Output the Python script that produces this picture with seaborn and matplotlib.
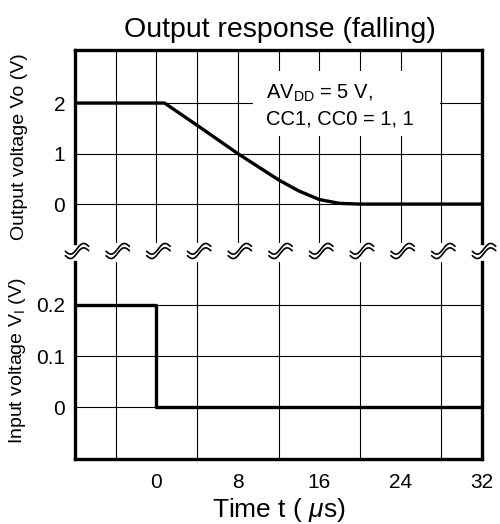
import numpy as np
import pandas as pd
import seaborn as sns
import matplotlib.pyplot as plt
import matplotlib.transforms as mtrans
from matplotlib.patches import Rectangle

# output voltage (top panel)
t_out = [-8, 0.8, 4, 8, 10, 12, 14, 16, 18, 20, 32]
v_out = [2.0, 2.0, 1.56, 1.0, 0.74, 0.48, 0.26, 0.09, 0.015, 0.0, 0.0]

# input voltage (bottom panel)
t_in = [-8, 0, 0, 32]
v_in = [0.2, 0.2, 0.0, 0.0]

x_ticks = [0, 8, 16, 24, 32]
x_grid = [-8, -4, 0, 4, 8, 12, 16, 20, 24, 28, 32]
top_yticks = [0, 1, 2]
bot_yticks = [0, 0.1, 0.2]
bot_ylabels = ["0", "0.1", "0.2"]

sns.set_style("white")
plt.rcParams['font.family'] = ['Liberation Sans', 'DejaVu Sans']
plt.rcParams['mathtext.fontset'] = 'custom'
plt.rcParams['mathtext.rm'] = 'Liberation Sans'
plt.rcParams['mathtext.it'] = 'Liberation Sans:italic'
plt.rcParams['text.color'] = 'black'
plt.rcParams['axes.labelcolor'] = 'black'
plt.rcParams['xtick.color'] = 'black'
plt.rcParams['ytick.color'] = 'black'

W, H = 500, 524
fig = plt.figure(figsize=(W / 100, H / 100), dpi=100)

def px(l, t, r, b):
    return [l / W, 1 - b / H, (r - l) / W, (b - t) / H]

ax1 = fig.add_axes(px(75, 50, 482, 243))
ax2 = fig.add_axes(px(75, 262, 482, 459))

df_out = pd.DataFrame({"t": t_out, "v": v_out})
df_in = pd.DataFrame({"t": t_in, "v": v_in})

sns.lineplot(data=df_out, x="t", y="v", ax=ax1, color="black", lw=2.4,
             sort=False, estimator=None, zorder=5)
sns.lineplot(data=df_in, x="t", y="v", ax=ax2, color="black", lw=2.4,
             sort=False, estimator=None, zorder=5)

ax1.set_ylim(-0.77, 3.05)
ax2.set_ylim(-0.101, 0.284)
for ax in (ax1, ax2):
    ax.set_xlim(-8, 32)
    ax.set_xticks(x_grid, minor=True)
    ax.grid(True, which="minor", axis="x", color="black", lw=0.8)
    ax.grid(True, which="major", axis="y", color="black", lw=0.8)
    ax.tick_params(which="both", length=0, labelsize=15, pad=7)
    ax.set_xlabel("")
    for s in ax.spines.values():
        s.set_linewidth(2.4)
        s.set_color("black")

ax1.set_xticks([])
ax1.set_xticks(x_grid, minor=True)
ax1.set_yticks(top_yticks)
ax1.spines["bottom"].set_visible(False)
ax1.set_ylabel("Output voltage Vo (V)", fontsize=14)
ax1.yaxis.set_label_coords(-0.115, 0.5)

ax2.set_xticks(x_ticks)
ax2.set_yticks(bot_yticks)
ax2.set_yticklabels(bot_ylabels)
ax2.tick_params(axis="x", pad=10)
ax2.spines["top"].set_visible(False)
ax2.set_ylabel(r"Input voltage V$_\mathregular{I}$ (V)", fontsize=14)
ax2.yaxis.set_label_coords(-0.115, 0.5)
ax2.set_xlabel(r"Time t ( $\mu$s)", fontsize=19, labelpad=3)

fig.text(0.56, 1 - 30 / H, "Output response (falling)", ha="center",
         va="center", fontsize=20.5)

# white box behind the condition note
ax1.add_patch(Rectangle((9.5, 1.35), 18.4, 1.28, facecolor="white",
                        edgecolor="none", zorder=3))
ax1.text(10.8, 2.08, r"$\mathregular{AV_{DD}}$ = 5 V,", fontsize=14.5,
         ha="left", va="baseline", zorder=4)
ax1.text(10.8, 1.57, "CC1, CC0 = 1, 1", fontsize=14.5,
         ha="left", va="baseline", zorder=4)

# break marks between the two panels
tr = mtrans.blended_transform_factory(ax1.transData, fig.transFigure)
u = np.linspace(0, 1, 40)
for xg in x_grid:
    xs = xg + 0.2 + (u - 0.5) * 2.3
    for off in (-2.2, 2.2):
        ys = 1 - (251 + off - 5 * (u - 0.5) + 4 * np.sin(2 * np.pi * u)) / H
        fig.add_artist(plt.Line2D(xs, ys, transform=tr, color="black",
                                  lw=1.2, clip_on=False))

plt.savefig("out.png", dpi=100)
